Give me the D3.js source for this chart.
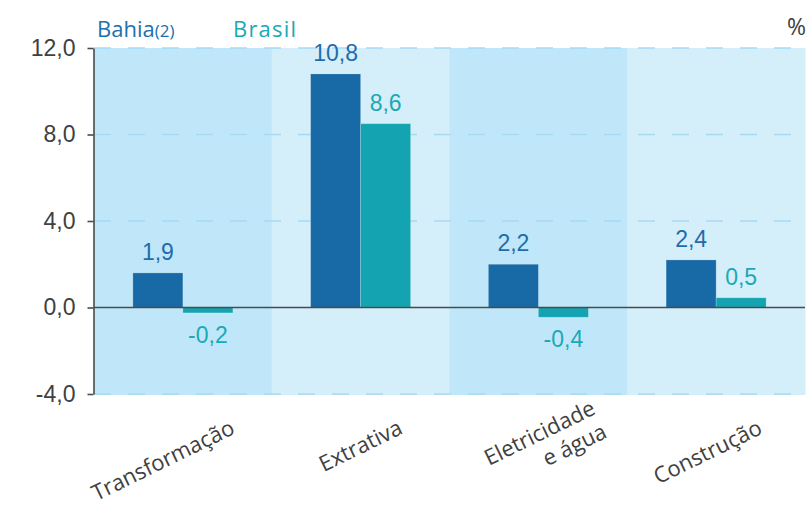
<!DOCTYPE html>
<html>
<head>
<meta charset="utf-8">
<script src="https://cdn.jsdelivr.net/npm/d3@7/dist/d3.min.js"></script>
<style>
  body { margin: 0; background: #fff; }
  svg { display: block; }
</style>
</head>
<body>
<svg id="chart" width="810" height="507"></svg>
<script>
// ---- data ----
const categories = ["Transformação", "Extrativa", "Eletricidade\ne água", "Construção"];
const seriesNames = ["Bahia", "Brasil"];
const bahiaValues = [1.6, 10.8, 2.0, 2.2];
const brasilValues = [-0.25, 8.5, -0.45, 0.45];
const bahiaLabels = ["1,9", "10,8", "2,2", "2,4"];
const brasilLabels = ["-0,2", "8,6", "-0,4", "0,5"];
const yTicks = [-4, 0, 4, 8, 12];
const gridValues = [-4, 4, 8, 12];

(function () {
// ---- styles ----
const colors = { Bahia: "#186aa6", Brasil: "#14a4b1" };
const labelColors = { Bahia: "#1f6cab", Brasil: "#1aa9b5" };
const bandColors = ["#c0e7f9", "#d4eefa"];
const textGray = "#404040";

const svg = d3.select("#chart");
const mLeft = 94, mRight = 805, mTop = 48, mBottom = 394;

const x0 = d3.scaleBand().domain(categories).range([mLeft, mRight]).padding(0);
const x1 = d3.scaleBand().domain(seriesNames).range([0, x0.bandwidth()])
  .paddingInner(0).paddingOuter(0.7775);
const y = d3.scaleLinear().domain([-4, 12]).range([mBottom, mTop]);

// background bands
svg.append("g").selectAll("rect").data(categories).join("rect")
  .attr("x", d => x0(d))
  .attr("y", y(12))
  .attr("width", x0.bandwidth() + 0.5)
  .attr("height", y(-4) - y(12) + 1)
  .attr("fill", (d, i) => bandColors[i % 2]);

// dashed gridlines
svg.append("g").selectAll("line").data(gridValues).join("line")
  .attr("x1", mLeft).attr("x2", mRight)
  .attr("y1", d => y(d)).attr("y2", d => y(d))
  .attr("stroke", "#a6daf3").attr("stroke-width", 1.5)
  .attr("stroke-dasharray", "17,17");

// bars
const rows = categories.map((c, i) => ({
  cat: c,
  vals: [
    { s: "Bahia", v: bahiaValues[i], lab: bahiaLabels[i] },
    { s: "Brasil", v: brasilValues[i], lab: brasilLabels[i] }
  ]
}));

const groups = svg.append("g").selectAll("g").data(rows).join("g")
  .attr("transform", d => `translate(${x0(d.cat)},0)`);

groups.selectAll("rect").data(d => d.vals).join("rect")
  .attr("x", d => x1(d.s))
  .attr("width", x1.bandwidth())
  .attr("y", d => y(Math.max(0, d.v)))
  .attr("height", d => Math.abs(y(d.v) - y(0)))
  .attr("fill", d => colors[d.s])
  .attr("stroke", "rgba(255,255,255,0.25)").attr("stroke-width", 0.8);

groups.selectAll("text").data(d => d.vals).join("text")
  .attr("x", d => x1(d.s) + x1.bandwidth() / 2)
  .attr("y", d => d.v >= 0 ? y(d.v) - 13 : y(d.v) + 30)
  .attr("text-anchor", "middle")
  .attr("font-family", "'Liberation Sans', Arial, sans-serif")
  .attr("font-size", 23)
  .attr("fill", d => labelColors[d.s])
  .text(d => d.lab);

// zero line
svg.append("line")
  .attr("x1", mLeft).attr("x2", mRight)
  .attr("y1", y(0)).attr("y2", y(0))
  .attr("stroke", "#4a4a4a").attr("stroke-width", 1.6);

// y axis
const yAxis = d3.axisLeft(y).tickValues(yTicks).tickSize(6).tickSizeOuter(0).tickPadding(12)
  .tickFormat(d => d.toFixed(1).replace(".", ","));
const ya = svg.append("g").attr("transform", `translate(${mLeft - 0.5},0)`).call(yAxis);
ya.select(".domain").attr("stroke", "#4a4a4a").attr("stroke-width", 1.6);
ya.selectAll(".tick line").attr("stroke", "#4a4a4a").attr("stroke-width", 1.6);
ya.selectAll(".tick text")
  .attr("font-family", "'Liberation Sans', Arial, sans-serif")
  .attr("font-size", 23).attr("fill", textGray);

// category labels (rotated)
const angle = -26;
const rad = angle * Math.PI / 180;
categories.forEach(c => {
  const lines = c.split("\n");
  const cx = x0(c) + x0.bandwidth() / 2;
  const g = svg.append("g");
  const t = g.append("text")
    .attr("text-anchor", "end")
    .attr("font-family", "'Open Sans', sans-serif")
    .attr("font-size", 22)
    .attr("fill", textGray);
  const lh = 26;
  lines.forEach((ln, i) => {
    t.append("tspan").attr("x", 0)
      .attr("y", (i - (lines.length - 1) / 2) * lh)
      .text(ln);
  });
  let L = 0;
  t.selectAll("tspan").each(function () { L = Math.max(L, this.getComputedTextLength()); });
  const shift = lines.length > 1 ? 18 : 0;
  const ax = cx + 30 + 0.15 * L + shift * Math.cos(rad);
  const ay = 433 + shift * Math.sin(rad);
  g.attr("transform", `translate(${ax},${ay}) rotate(${angle})`);
});

// legend
const leg = svg.append("g").attr("font-family", "'Open Sans', sans-serif");
const lb = leg.append("text").attr("x", 97).attr("y", 37).attr("fill", "#2170ad").attr("font-size", 22);
lb.append("tspan").text("Bahia");
lb.append("tspan").attr("font-size", 17).text("(2)");
leg.append("text").attr("x", 233).attr("y", 37).attr("fill", "#1aa9b5")
  .attr("font-size", 22).attr("letter-spacing", 1.2).text("Brasil");

svg.append("text").attr("x", 806).attr("y", 35).attr("text-anchor", "end")
  .attr("font-family", "'Open Sans', sans-serif").attr("font-size", 23)
  .attr("fill", textGray).text("%");
})();
</script>
</body>
</html>
